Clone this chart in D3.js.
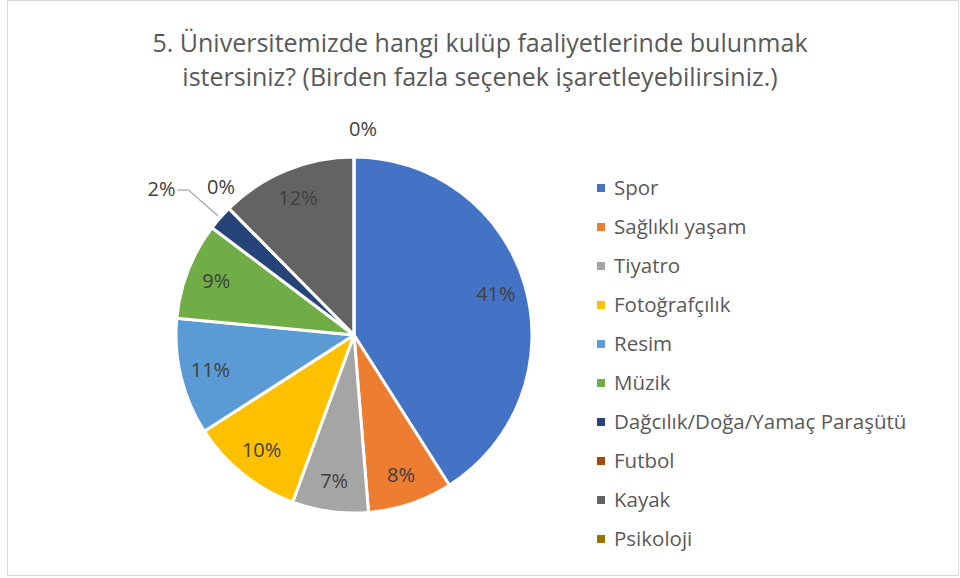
<!DOCTYPE html>
<html><head><meta charset="utf-8">
<script src="https://cdn.jsdelivr.net/npm/d3@7"></script>
<style>body{margin:0;background:#fff}svg{display:block}</style>
</head><body>
<svg id="c" width="960" height="578"></svg>
<script>
const titleLines = ["5. Üniversitemizde hangi kulüp faaliyetlerinde bulunmak", "istersiniz? (Birden fazla seçenek işaretleyebilirsiniz.)"];
const categories = ["Spor","Sağlıklı yaşam","Tiyatro","Fotoğrafçılık","Resim","Müzik","Dağcılık/Doğa/Yamaç Paraşütü","Futbol","Kayak","Psikoloji"];
const values = [41.0, 7.7, 6.9, 10.3, 10.6, 8.8, 2.3, 0, 12.4, 0];
const colors = ["#4472C4","#ED7D31","#A5A5A5","#FFC000","#5B9BD5","#70AD47","#264478","#9E480E","#636363","#997300"];

const font = "Open Sans, Noto Sans, sans-serif";
const svg = d3.select("#c");
svg.append("rect").attr("x",7.5).attr("y",0.5).attr("width",951).attr("height",575)
  .attr("fill","#fff").attr("stroke","#d9d9d9");

// title
const tl = svg.append("g");
titleLines.forEach((t,i)=>{
  tl.append("text").attr("x",480).attr("y",52+i*34).attr("text-anchor","middle")
    .attr("font-family",font).attr("font-size",25).attr("fill","#595959").text(t);
});

const cx = 354, cy = 335, R = 178;
const total = d3.sum(values);
const data = categories.map((c,i)=>({c, v: values[i], col: colors[i], i}));
const pie = d3.pie().value(d=>d.v).sort(null);
const arcs = pie(data);
const arc = d3.arc().innerRadius(0).outerRadius(R);
const g = svg.append("g").attr("transform",`translate(${cx},${cy})`);
g.selectAll("path").data(arcs).enter().append("path")
  .attr("d",arc).attr("fill",d=>d.data.col).attr("stroke","#fff").attr("stroke-width",3)
  .attr("stroke-linejoin","round");

const fmt = v => Math.round(v/total*100) + "%";
const polar = (r,a)=>[r*Math.sin(a), -r*Math.cos(a)];
const labelG = g.append("g").attr("font-family",font).attr("font-size",20).attr("fill","#404040");
arcs.forEach(d=>{
  const mid = (d.startAngle+d.endAngle)/2;
  const frac = d.data.v/total;
  if (frac >= 0.05) {
    const [x,y] = polar(R*0.83, mid);
    labelG.append("text").attr("x",x).attr("y",y).attr("dy","0.35em").attr("text-anchor","middle").text(fmt(d.data.v));
  } else if (frac > 0) {
    const p1 = polar(R+3, mid), p2 = polar(R+42, mid);
    const p3 = [p2[0]-11, p2[1]];
    g.append("polyline").attr("points",[p1,p2,p3].map(p=>p.join(",")).join(" "))
      .attr("fill","none").attr("stroke","#a6a6a6").attr("stroke-width",1.3);
    labelG.append("text").attr("x",p3[0]-2).attr("y",p3[1]).attr("dy","0.3em").attr("text-anchor","end").text(fmt(d.data.v));
  } else {
    const [x,y] = polar(R+24, mid);
    const dx = mid > 0.1 ? 9 : 0, dy = mid > 0.1 ? -4 : 0;
    labelG.append("text").attr("x",x+dx).attr("y",y+dy).attr("dy","0.35em").attr("text-anchor","middle").text(fmt(d.data.v));
  }
});

// legend
const lg = svg.append("g").attr("font-family",font).attr("font-size",20.5).attr("fill","#595959");
const ly = d3.scalePoint().domain(categories).range([188,539]);
categories.forEach((c,i)=>{
  lg.append("rect").attr("x",597).attr("y",ly(c)-4).attr("width",8).attr("height",8).attr("fill",colors[i]);
  lg.append("text").attr("x",614).attr("y",ly(c)).attr("dy","0.35em").text(c);
});
</script>
</body></html>
